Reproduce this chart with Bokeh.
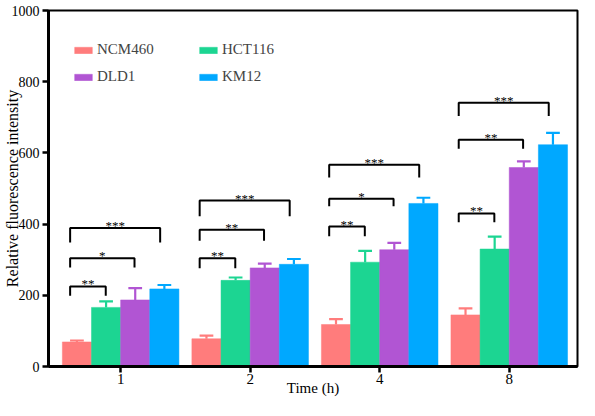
from bokeh.plotting import figure
from bokeh.models import Legend, LegendItem, FixedTicker, ColumnDataSource
from bokeh.core.properties import value
from bokeh.embed import file_html
from bokeh.resources import INLINE

# ---------------- data ----------------
times = ["1", "2", "4", "8"]
series = ["NCM460", "HCT116", "DLD1", "KM12"]
colors = ["#FF7C7C", "#1CD592", "#B155D3", "#00A8FF"]

ncm460 = [69, 78, 118, 145]
ncm460_err = [4, 9, 15, 18]
hct116 = [166, 242, 293, 330]
hct116_err = [17, 8, 32, 35]
dld1 = [187, 277, 328, 559]
dld1_err = [33, 12, 19, 17]
km12 = [218, 287, 458, 623]
km12_err = [11, 15, 16, 33]

y_ticks = [0, 200, 400, 600, 800, 1000]

# significance brackets (NCM460 vs HCT116 / DLD1 / KM12)
sig_labels = [["**", "*", "***"], ["**", "**", "***"], ["**", "*", "***"], ["**", "**", "***"]]
bracket_tops = [[225, 304, 389], [304, 384, 466], [393, 471, 567], [430, 637, 741]]
bracket_bottoms = [[199, 278, 348], [276, 353, 422], [366, 450, 531], [405, 612, 704]]

values = [ncm460, hct116, dld1, km12]
errors = [ncm460_err, hct116_err, dld1_err, km12_err]

# ---------------- styling ----------------
FONT = "Liberation Serif"
W, H = 579, 400
ML, MR, MT, MB = 42, 2, 10, 34
bar_w = 0.225
offsets = [-1.5 * bar_w, -0.5 * bar_w, 0.5 * bar_w, 1.5 * bar_w]
cap_half = 0.053
br_left = -0.39
br_rights = [-0.115, 0.107, 0.305]

p = figure(width=W, height=H, x_range=(-0.557, 3.527), y_range=(0, 1000),
           output_backend="svg", toolbar_location=None,
           min_border_left=ML, min_border_right=MR, min_border_top=MT, min_border_bottom=MB)
p.xgrid.visible = False
p.ygrid.visible = False
p.outline_line_color = "black"
p.outline_line_width = 2
p.background_fill_color = "white"
p.border_fill_color = "white"

renderers = []
for k in range(4):
    xs = [i + offsets[k] for i in range(len(times))]
    tops = values[k]
    errs = errors[k]
    src = ColumnDataSource(dict(x=xs, top=tops))
    r = p.vbar(x="x", top="top", width=bar_w, bottom=0, source=src,
               fill_color=colors[k], line_color=colors[k], line_width=0.5)
    renderers.append(r)
    ups = [t + e for t, e in zip(tops, errs)]
    p.segment(x0=xs, y0=tops, x1=xs, y1=ups, line_color=colors[k], line_width=2.2)
    p.segment(x0=[x - cap_half for x in xs], y0=ups, x1=[x + cap_half for x in xs], y1=ups,
              line_color=colors[k], line_width=2.2)

# brackets
bx, by, tx, ty, tt = [], [], [], [], []
for i in range(len(times)):
    for j in range(3):
        xl = i + br_left
        xr = i + br_rights[j]
        top = bracket_tops[i][j]
        bot = bracket_bottoms[i][j]
        bx.append([xl, xl, xr, xr])
        by.append([bot, top, top, bot])
        tx.append((xl + xr) / 2)
        ty.append(top)
        tt.append(sig_labels[i][j])
p.multi_line(xs=bx, ys=by, line_color="black", line_width=2)
p.text(x=tx, y=ty, text=tt, text_align="center", text_baseline="bottom",
       text_font=value(FONT), text_font_size="13px", text_color="black", y_offset=5)

# axes
p.yaxis.ticker = FixedTicker(ticks=y_ticks)
p.xaxis.ticker = FixedTicker(ticks=list(range(len(times))))
p.xaxis.major_label_overrides = {i: t for i, t in enumerate(times)}
for ax in (p.xaxis, p.yaxis):
    ax.axis_line_width = 3
    ax.axis_line_color = "black"
    ax.major_tick_line_width = 2.5
    ax.major_tick_line_color = "black"
    ax.major_tick_out = 6
    ax.major_tick_in = 0
    ax.minor_tick_out = 0
    ax.minor_tick_in = 0
    ax.major_label_text_font = FONT
    ax.major_label_text_color = "black"
    ax.axis_label_text_font = FONT
    ax.axis_label_text_font_style = "normal"
    ax.axis_label_text_color = "black"
p.yaxis.major_label_text_font_size = "14px"
p.xaxis.major_label_text_font_size = "15px"
p.yaxis.major_label_standoff = 3
p.xaxis.major_label_standoff = 1
p.yaxis.axis_label = "Relative fluorescence intensity"
p.xaxis.axis_label = "Time (h)"
p.yaxis.axis_label_text_font_size = "16px"
p.xaxis.axis_label_text_font_size = "15px"
p.yaxis.axis_label_standoff = -12
p.xaxis.axis_label_standoff = -7

frame_h = H - MT - MB
legend = Legend(items=[LegendItem(label=s, renderers=[r]) for s, r in zip(series, renderers)],
                orientation="horizontal", ncols=2, location=(24, frame_h - 31 - 44),
                glyph_width=22, glyph_height=8, label_standoff=3, spacing=10,
                label_width=90, label_height=17, padding=0, margin=0,
                label_text_font=FONT, label_text_font_size="15px",
                border_line_color=None, background_fill_alpha=0)
p.add_layout(legend)

open("out.html", "w").write(file_html(p, INLINE))
